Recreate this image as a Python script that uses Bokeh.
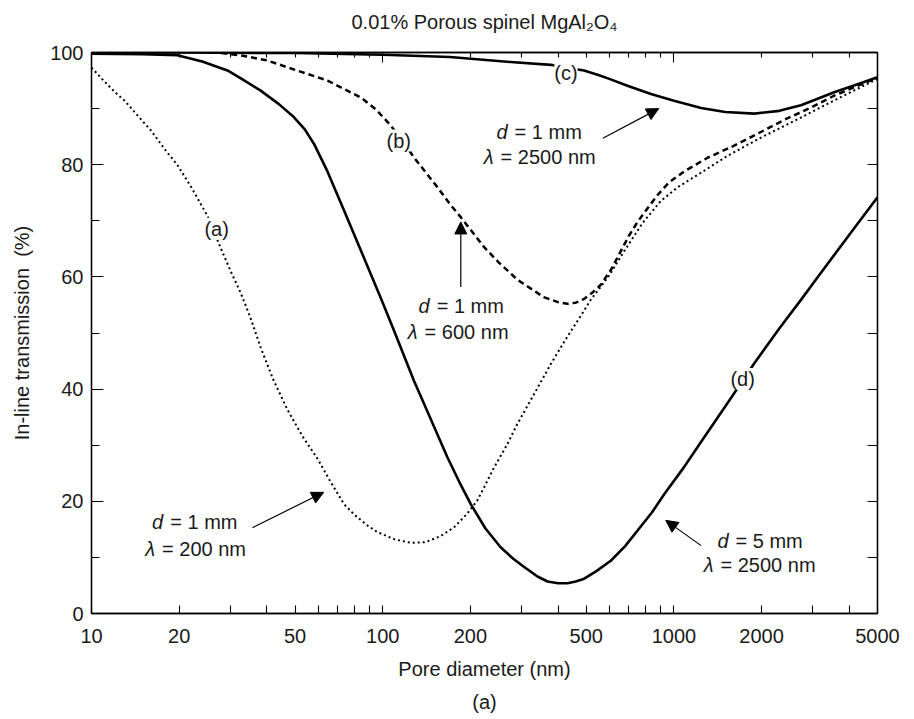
from bokeh.plotting import figure
from bokeh.models import (Range1d, LogAxis, LinearAxis, FixedTicker, Label, Arrow,
                          NormalHead, Title, PrintfTickFormatter, CustomJSTickFormatter)
from bokeh.embed import file_html
from bokeh.resources import INLINE

# ---------------- data ----------------
x_ticks = [10, 20, 50, 100, 200, 500, 1000, 2000, 5000]
x_minor = [30, 40, 60, 70, 80, 90, 300, 400, 600, 700, 800, 900, 3000, 4000]
y_ticks = [0, 20, 40, 60, 80, 100]
y_minor = [10, 30, 50, 70, 90]

# (a) d = 1 mm, lambda = 200 nm (dotted)
a_x = [10, 11, 12, 13, 14.5, 16, 18, 19.7, 22, 25, 27.7, 30, 32.5, 35.1, 38.1, 42, 47, 53,
       59.7, 66, 73.6, 80, 88, 96, 110, 125, 140, 158, 176, 195, 211, 223, 241, 268, 290,
       330, 378, 430, 482, 519, 560, 600, 675, 780, 900, 1031, 1250, 1530, 2000, 2590,
       3500, 5000]
a_y = [97.3, 95.0, 93.0, 91.4, 88.6, 86.1, 82.5, 80.0, 76.0, 70.9, 65.3, 61.1, 57.2, 52.8,
       47.4, 41.8, 36.4, 31.6, 27.6, 23.6, 19.5, 17.6, 15.8, 14.5, 13.2, 12.6, 12.7, 13.8,
       15.4, 17.8, 20.1, 22.5, 26.0, 30.2, 33.8, 39.0, 44.5, 49.3, 53.3, 56.0, 58.2, 60.3,
       64.6, 69.6, 73.5, 76.0, 78.7, 81.6, 84.9, 87.8, 91.3, 95.3]

# (b) d = 1 mm, lambda = 600 nm (dashed)
b_x = [10, 15, 20, 25, 32.5, 40, 50, 64.6, 84, 95, 106.5, 116, 128, 154, 170, 185, 223,
       250, 290, 357, 400, 431, 460, 492, 525, 561, 610, 657, 700, 750, 800, 879, 960,
       1084, 1300, 1610, 1900, 2393, 2900, 3550, 4200, 5000]
b_y = [100.4, 100.6, 100.5, 100.2, 99.5, 98.6, 96.9, 95.0, 92.0, 89.8, 87.0, 84.5, 81.3,
       76.0, 73.0, 70.7, 65.3, 62.6, 59.5, 56.4, 55.5, 55.2, 55.4, 56.1, 57.2, 58.6, 61.4,
       64.6, 67.3, 69.8, 71.8, 74.6, 76.8, 78.8, 81.2, 83.4, 85.3, 88.0, 90.0, 92.3, 93.9,
       95.5]

# (c) d = 1 mm, lambda = 2500 nm (solid)
c_x = [10, 20, 50, 100, 170, 275, 378, 426, 491, 550, 600, 700, 834, 1000, 1240, 1500,
       1888, 2300, 2730, 3100, 3550, 4200, 5000]
c_y = [99.9, 100.0, 99.9, 99.6, 99.2, 98.3, 97.8, 97.3, 96.8, 96.0, 95.3, 94.0, 92.6, 91.4,
       90.1, 89.4, 89.1, 89.6, 90.6, 91.7, 92.9, 94.2, 95.6]

# (d) d = 5 mm, lambda = 2500 nm (solid)
d_x = [10, 15, 19.7, 24, 29.3, 33, 38.1, 44, 49.5, 54, 58.1, 64.6, 73.6, 84, 98.4, 109.4,
       128, 142.4, 166.6, 185, 200.6, 225, 254, 280, 306, 340, 368, 400, 431, 460, 492,
       540, 607, 680, 750, 840, 927, 1080, 1240, 1570, 1888, 2300, 2730, 3119, 4055, 5000]
d_y = [99.8, 99.7, 99.5, 98.4, 96.8, 95.2, 93.2, 90.8, 88.5, 86.3, 83.7, 78.8, 71.9, 64.8,
       56.3, 50.4, 41.5, 36.0, 27.9, 23.0, 19.5, 15.2, 11.8, 9.8, 8.3, 6.6, 5.7, 5.4, 5.4,
       5.7, 6.2, 7.5, 9.4, 12.0, 14.8, 18.0, 21.3, 26.0, 30.6, 38.4, 44.6, 50.8, 55.9,
       60.0, 67.9, 74.2]

TITLE = "0.01% Porous spinel MgAl\u2082O\u2084"

FONT = "Liberation Sans"
TXT = "#1a1a1a"
FS = "20px"

p = figure(width=914, height=719, x_axis_type="log",
           x_range=Range1d(10, 5000), y_range=Range1d(0, 100),
           output_backend="svg", toolbar_location=None,
           min_border_left=91, min_border_right=37, min_border_top=52, min_border_bottom=106)
p.grid.visible = False
p.outline_line_color = "black"
p.outline_line_width = 1.3
p.background_fill_color = "white"
p.border_fill_color = "white"

# bottom axis
xa = p.xaxis[0]
xa.ticker = FixedTicker(ticks=x_ticks, minor_ticks=x_minor)
xa.formatter = PrintfTickFormatter(format="%d")
xa.major_tick_in = 8
xa.major_tick_out = 0
xa.minor_tick_in = 8
xa.minor_tick_out = 0
xa.axis_line_width = 1.3
xa.major_tick_line_width = 1.1
xa.minor_tick_line_width = 1.1
xa.major_label_standoff = 15
xa.major_label_text_font = FONT
xa.major_label_text_font_size = FS
xa.major_label_text_color = TXT
xa.axis_label = "Pore diameter (nm)"
xa.axis_label_text_font = FONT
xa.axis_label_text_font_size = FS
xa.axis_label_text_font_style = "normal"
xa.axis_label_text_color = TXT
xa.axis_label_standoff = 12

# left axis
ya = p.yaxis[0]
ya.ticker = FixedTicker(ticks=y_ticks, minor_ticks=y_minor)
ya.major_tick_in = 12
ya.major_tick_out = 0
ya.minor_tick_in = 8
ya.minor_tick_out = 0
ya.axis_line_width = 1.3
ya.major_tick_line_width = 1.1
ya.minor_tick_line_width = 1.1
ya.major_label_standoff = 8
ya.major_label_text_font = FONT
ya.major_label_text_font_size = FS
ya.major_label_text_color = TXT
ya.axis_label = "In-line transmission\u00a0\u00a0(%)"
ya.axis_label_text_font = FONT
ya.axis_label_text_font_size = FS
ya.axis_label_text_font_style = "normal"
ya.axis_label_text_color = TXT
ya.axis_label_standoff = 14

blank = CustomJSTickFormatter(code="return ''")

# right axis (ticks only)
ra = LinearAxis(ticker=FixedTicker(ticks=y_ticks, minor_ticks=y_minor), formatter=blank,
                major_tick_in=10, major_tick_out=0, minor_tick_in=10, minor_tick_out=0,
                major_label_standoff=0, major_label_text_font_size="0px",
                axis_line_width=1.3, major_tick_line_width=1.1, minor_tick_line_width=1.1)
p.add_layout(ra, "right")

# top axis (ticks only) carrying the chart title as its label
top_minor = [20, 30, 40, 50, 60, 70, 80, 90, 200, 300, 400, 500, 600, 700, 800, 900,
             2000, 3000, 4000]
ta = LogAxis(ticker=FixedTicker(ticks=[100, 1000], minor_ticks=top_minor), formatter=blank,
             major_tick_in=10, major_tick_out=0, minor_tick_in=5, minor_tick_out=0,
             major_label_standoff=0, major_label_text_font_size="0px",
             axis_line_width=1.3, major_tick_line_width=1.1, minor_tick_line_width=1.1,
             axis_label=TITLE, axis_label_text_font=FONT, axis_label_text_font_size=FS,
             axis_label_text_font_style="normal", axis_label_text_color=TXT,
             axis_label_standoff=20)
p.add_layout(ta, "above")

# caption below
p.add_layout(Title(text="(a)", align="center", text_font=FONT, text_font_size=FS,
                   text_font_style="normal", text_color=TXT, standoff=13), "below")

# curves
p.line(a_x, a_y, line_color="black", line_width=2.0, line_dash="2 3")
p.line(b_x, b_y, line_color="black", line_width=2.5, line_dash="6 4")
p.line(c_x, c_y, line_color="black", line_width=2.6, line_join="round")
p.line(d_x, d_y, line_color="black", line_width=2.6, line_join="round")

# curve labels
for (lx, ly, t) in [(26.9, 68.6, "(a)"), (113.5, 84.3, "(b)"), (426, 96.4, "(c)"),
                    (1722, 41.8, "(d)")]:
    p.add_layout(Label(x=lx, y=ly, text=t, text_align="center", text_baseline="middle",
                       text_font=FONT, text_font_size=FS, text_color=TXT,
                       background_fill_color="white"))


def eq(x, y, sym, rest):
    p.add_layout(Label(x=x, y=y, text=sym, text_align="right", text_baseline="middle",
                       x_offset=-4, text_font=FONT, text_font_size=FS,
                       text_font_style="italic", text_color=TXT))
    p.add_layout(Label(x=x, y=y, text=rest, text_align="left", text_baseline="middle",
                       x_offset=3, text_font=FONT, text_font_size=FS, text_color=TXT))


eq(277, 85.8, "d", "= 1 mm")
eq(248, 81.3, "\u03bb", "= 2500 nm")
eq(149.6, 54.9, "d", "= 1 mm")
eq(136, 50.1, "\u03bb", "= 600 nm")
eq(18.2, 16.3, "d", "= 1 mm")
eq(17.06, 11.5, "\u03bb", "= 200 nm")
eq(1589, 13.0, "d", "= 5 mm")
eq(1411, 8.6, "\u03bb", "= 2500 nm")

for (xs, ys, xe, ye) in [(570, 84.7, 887, 90.0), (185.4, 58.2, 185.4, 69.8),
                         (35.7, 15.3, 62.7, 21.6), (1240, 12.1, 937, 16.6)]:
    p.add_layout(Arrow(end=NormalHead(size=12, fill_color="black", line_color="black"),
                       x_start=xs, y_start=ys, x_end=xe, y_end=ye,
                       line_color="black", line_width=1.2))

open("out.html", "w").write(file_html(p, INLINE))
